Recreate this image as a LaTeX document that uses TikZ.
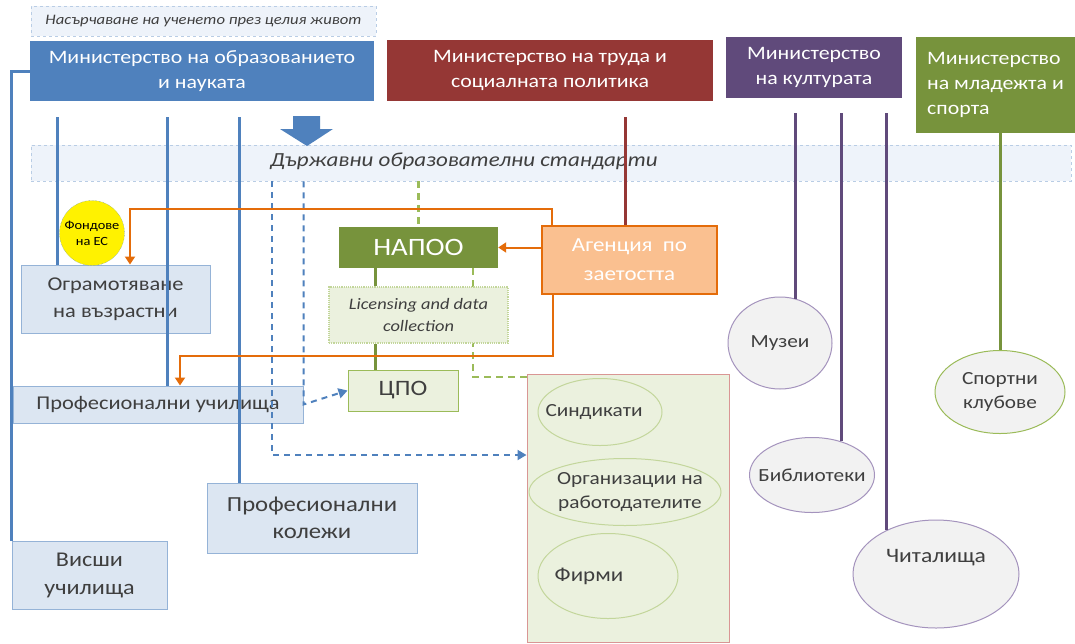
\documentclass[tikz,border=0pt]{standalone}
\usepackage{fontspec}
\setmainfont{Carlito}[FakeStretch=1.15]
\usepackage{xcolor}
\usepackage{tikz}
\usetikzlibrary{shapes.geometric, arrows.meta}

\definecolor{moeblue}{HTML}{4F81BD}
\definecolor{mlspred}{HTML}{953735}
\definecolor{mocpurple}{HTML}{604A7B}
\definecolor{mysgreen}{HTML}{77933C}
\definecolor{lightfill}{HTML}{DCE6F2}
\definecolor{lightline}{HTML}{95B3D7}
\definecolor{bandfill}{HTML}{EEF3FA}
\definecolor{bandline}{HTML}{B9CDE5}
\definecolor{agfill}{HTML}{FAC090}
\definecolor{agline}{HTML}{E46C0A}
\definecolor{palegreen}{HTML}{EBF1DE}
\definecolor{greenline}{HTML}{9BBB59}
\definecolor{softgreen}{HTML}{C3D69B}
\definecolor{orgline}{HTML}{D99694}
\definecolor{venuefill}{HTML}{F2F2F2}
\definecolor{venueline}{HTML}{A493BD}
\definecolor{darktext}{HTML}{3F3F3F}

\tikzset{
  ministry/.style={text=white, align=center, inner sep=0pt, font=\fontsize{19}{25}\selectfont},
  band/.style={draw=bandline, dashed, fill=bandfill, line width=0.8pt},
  lightbox/.style={draw=lightline, fill=lightfill, line width=1pt, text=darktext, align=center, inner sep=0pt, font=\fontsize{20}{27}\selectfont},
  napoobox/.style={fill=mysgreen, text=white, inner sep=0pt, font=\fontsize{25}{29}\selectfont},
  agencybox/.style={draw=agline, fill=agfill, line width=2pt, text=white, align=center, inner sep=0pt, font=\fontsize{20}{29}\selectfont},
  greenbox/.style={draw=greenline, fill=palegreen, line width=1pt, text=darktext, inner sep=0pt, font=\fontsize{22}{26}\selectfont},
  orgbox/.style={draw=orgline, fill=palegreen, line width=1pt},
  orgitem/.style={ellipse, draw=softgreen, line width=1pt, inner sep=0pt},
  venue/.style={ellipse, draw=venueline, fill=venuefill, line width=1pt, inner sep=0pt},
  every label/.style={text=darktext, align=center, inner sep=0pt, font=\fontsize{18.5}{24}\selectfont},
  moeline/.style={draw=moeblue, line width=3pt},
  mlspline/.style={draw=mlspred, line width=3pt},
  mocline/.style={draw=mocpurple, line width=3pt},
  mysline/.style={draw=mysgreen, line width=3pt},
  agarrow/.style={draw=agline, line width=2pt, -{Triangle[length=8pt,width=10pt]}},
  napooline/.style={draw=mysgreen, line width=3pt},
  napoodash/.style={draw=greenline, line width=2.5pt, dash pattern=on 7pt off 5pt},
  stddash/.style={draw=moeblue, line width=2pt, dash pattern=on 6pt off 5pt, -{Triangle[length=9pt,width=10pt]}}
}

\begin{document}
\begin{tikzpicture}[x=1pt, y=-1pt]
\useasboundingbox [fill=white] (0,0) rectangle (1075,643);

% ministries
\node [band, minimum width=345, minimum height=30, text=darktext, font=\itshape\fontsize{14.5}{16}\selectfont] (lll) at (203.5,21) {Насърчаване на ученето през целия живот};
\node [ministry, fill=moeblue, minimum width=344, minimum height=60] (moe) at (202,71) {Министерство на образованието\\и науката};
\node [ministry, fill=mlspred, minimum width=326, minimum height=61] (mlsp) at (550,70.5) {Министерство на труда и\\социалната политика};
\node [ministry, fill=mocpurple, minimum width=176, minimum height=61] (moc) at (814,67.5) {Министерство\\на културата};
\node [ministry, fill=mysgreen, align=left, minimum width=159, minimum height=96] (mys) at (995.5,85) {Министерство\\на младежта и\\спорта};

% standards
\node [band, minimum width=1040, minimum height=36] (dos) at (551,163) {};
\node [text=darktext, inner sep=0pt, font=\itshape\fontsize{20}{24}\selectfont] (dostext) at (464,161) {Държавни образователни стандарти};
\fill [moeblue] (293,116) -- (320,116) -- (320,129) -- (333,129) -- (307,146) -- (280,129) -- (293,129) -- cycle;

% institutions
\node [lightbox, minimum width=189, minimum height=68, font=\fontsize{19.5}{27}\selectfont] (ogr) at (115.5,299) {Ограмотяване\\на възрастни};
\node [lightbox, minimum width=290, minimum height=37, font=\fontsize{19.5}{22}\selectfont] (pu) at (158,404.5) {Професионални училища};
\node [lightbox, minimum width=210, minimum height=70, font=\fontsize{21.5}{27}\selectfont] (pk) at (312,518) {Професионални\\колежи};
\node [lightbox, minimum width=155, minimum height=68, font=\fontsize{21}{28}\selectfont] (vu) at (89.5,575) {Висши\\училища};
\node [napoobox, minimum width=159, minimum height=41] (napoo) at (418.5,247.5) {НАПОО};
\node [agencybox, minimum width=175, minimum height=68] (agency) at (629.5,260) {Агенция~ по\\заетостта};
\node [greenbox, minimum width=110, minimum height=41] (cpo) at (403,390.5) {ЦПО};
\node [orgbox, minimum width=202, minimum height=268] (org) at (628,508) {};
\node [orgitem, minimum width=124, minimum height=67, label={[xshift=-6pt]center:Синдикати}] (sind) at (600,412) {};
\node [orgitem, minimum width=192, minimum height=67, label={[xshift=5pt]center:Организации на\\работодателите}] (rab) at (625,492) {};
\node [orgitem, minimum width=140, minimum height=85, label={[xshift=-19pt, font=\fontsize{20}{24}\selectfont]center:Фирми}] (firm) at (608,576) {};
\node [venue, minimum width=104, minimum height=92, label={center:Музеи}] (muz) at (780,343) {};
\node [venue, minimum width=125, minimum height=75, label={center:Библиотеки}] (bib) at (812,475) {};
\node [venue, minimum width=166, minimum height=108, label={[yshift=16pt, font=\fontsize{20.5}{24}\selectfont]center:Читалища}] (chit) at (936,574) {};
\node [venue, draw=greenline, minimum width=130, minimum height=83, label={center:Спортни\\клубове}] (sport) at (1000,392) {};

% NAPOO links
\coordinate (g1) at (375,300);
\coordinate (g2) at (473,377);
\draw [napoodash] (g2 |- napoo.south) -- (g2) -- (g2 -| org.west);
\draw [napoodash] (dos.south -| napoo.north) -- (napoo.north);
\node [draw=softgreen, densely dotted, line width=1.2pt, fill=palegreen, text=darktext, align=center, inner sep=0pt, minimum width=179, minimum height=56, font=\itshape\fontsize{16}{22}\selectfont] (lic) at (418.5,315) {Licensing and data\\collection};
\draw [napooline] (napoo.south -| g1) -- (lic.north -| g1);
\draw [napooline] (lic.south -| g1) -- (cpo.north -| g1);

% ministry lines
\coordinate (m1) at (57,117);
\coordinate (m2) at (167,117);
\coordinate (m3) at (239,117);
\draw [moeline] (moe.west) -| (vu.north west);
\draw [moeline] (m1) -- (m1 |- ogr.north);
\draw [moeline] (m2) -- (m2 |- pu.north);
\draw [moeline] (m3) -- (m3 |- pk.north);
\node [circle, draw=moeblue, densely dotted, fill=yellow, minimum size=65, inner sep=0pt, label={[text=black, font=\fontsize{12.5}{16}\selectfont]center:Фондове\\на ЕС}] (fonds) at (92,233) {};
\coordinate (t1) at (625,117);
\draw [mlspline] (t1) -- (t1 |- agency.north);
\coordinate (k1) at (795,113);
\coordinate (k2) at (841,113);
\coordinate (k3) at (886,113);
\draw [mocline] (k1) -- (k1 |- muz.71);
\draw [mocline] (k2) -- (k2 |- bib.49);
\draw [mocline] (k3) -- (k3 |- chit.139);
\draw [mysline] (mys.south -| sport.north) -- (sport.north);

% standards links
\coordinate (d1) at (272,455);
\draw [stddash] (d1 |- dos.south) -- (d1) -- (d1 -| org.west);
\draw [stddash] (dos.south -| pu.east) -- (pu.east) -- (cpo.west);

% agency links
\coordinate (o1) at (552,209);
\coordinate (o2) at (130,209);
\coordinate (o3) at (553,356);
\coordinate (o4) at (180,356);
\draw [agarrow] (o1 |- agency.north) -- (o1) -- (o2) -- (o2 |- ogr.north);
\draw [agarrow] (o3 |- agency.south) -- (o3) -- (o4) -- (o4 |- pu.north);
\draw [agarrow] (agency.west |- napoo.east) -- (napoo.east);
\end{tikzpicture}
\end{document}
